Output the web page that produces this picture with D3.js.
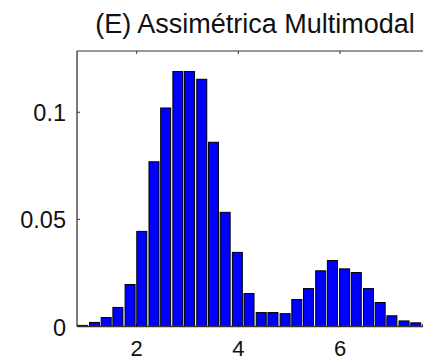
<!DOCTYPE html>
<html><head><meta charset="utf-8">
<script src="https://cdn.jsdelivr.net/npm/d3@7"></script>
<style>
html,body{margin:0;padding:0;background:#fff;}
svg{display:block;}
text{font-family:"Liberation Sans",Arial,sans-serif;fill:#111;}
</style></head>
<body>
<script>
const title = "(E) Assimétrica Multimodal";
const binCenters = [0.93,1.17,1.40,1.63,1.87,2.10,2.34,2.57,2.81,3.04,3.28,3.51,3.74,3.98,4.21,4.45,4.68,4.92,5.15,5.38,5.62,5.85,6.09,6.32,6.56,6.79,7.02,7.26,7.49,7.73];
const freq = [0.0005,0.0019,0.0042,0.0089,0.0196,0.0444,0.0769,0.102,0.119,0.119,0.1154,0.086,0.0533,0.0346,0.0154,0.0065,0.0065,0.006,0.0126,0.0177,0.026,0.0308,0.0269,0.0252,0.0177,0.0112,0.005,0.0026,0.0017,0.001];
const xTicks = [2,4,6];
const yTicks = [0,0.05,0.1];
const yTickLabels = ["0","0.05","0.1"];
const binWidth = 0.2343;

const W = 423, H = 361;
const L = 77, R = 440, T = 51, B = 326.5;
const svg = d3.select("body").append("svg").attr("width",W).attr("height",H);
const x = d3.scaleLinear().domain([0.8255,7.967]).range([L,R]);
const y = d3.scaleLinear().domain([0,0.1286]).range([B,T]);

svg.append("defs").append("clipPath").attr("id","c")
  .append("rect").attr("x",L).attr("y",T).attr("width",R-L).attr("height",B-T+1);

const bw = (x(binWidth)-x(0))*0.84;
svg.append("g").attr("clip-path","url(#c)").selectAll("rect").data(freq).join("rect")
  .attr("x",(d,i)=>x(binCenters[i])-bw/2)
  .attr("y",d=>y(d))
  .attr("width",bw)
  .attr("height",d=>B-y(d))
  .attr("fill","#0000ff").attr("stroke","#000").attr("stroke-width",1);

// axes box
const axc = "#333";
svg.append("line").attr("x1",L).attr("x2",R).attr("y1",T).attr("y2",T).attr("stroke",axc).attr("stroke-width",1);
svg.append("line").attr("x1",L).attr("x2",R).attr("y1",B).attr("y2",B).attr("stroke",axc).attr("stroke-width",1.3);
svg.append("line").attr("x1",L).attr("x2",L).attr("y1",T).attr("y2",B).attr("stroke",axc).attr("stroke-width",1.3);

// x ticks (inward, top and bottom)
const xa = svg.append("g");
xTicks.forEach(t=>{
  xa.append("line").attr("x1",x(t)).attr("x2",x(t)).attr("y1",T).attr("y2",T+3).attr("stroke",axc);
  xa.append("line").attr("x1",x(t)).attr("x2",x(t)).attr("y1",B).attr("y2",B-3).attr("stroke","#000");
  xa.append("text").attr("x",x(t)).attr("y",B+29).attr("text-anchor","middle").attr("font-size",22).text(t);
});
// y ticks
const ya = svg.append("g");
yTicks.forEach((t,i)=>{
  ya.append("line").attr("x1",L).attr("x2",L+3).attr("y1",y(t)).attr("y2",y(t)).attr("stroke",axc);
  ya.append("text").attr("x",L-11).attr("y",y(t)+9).attr("text-anchor","end").attr("font-size",23.5).text(yTickLabels[i]);
});

svg.append("text").attr("x",255).attr("y",32.5).attr("text-anchor","middle").attr("font-size",27).text(title);
</script>
</body></html>
